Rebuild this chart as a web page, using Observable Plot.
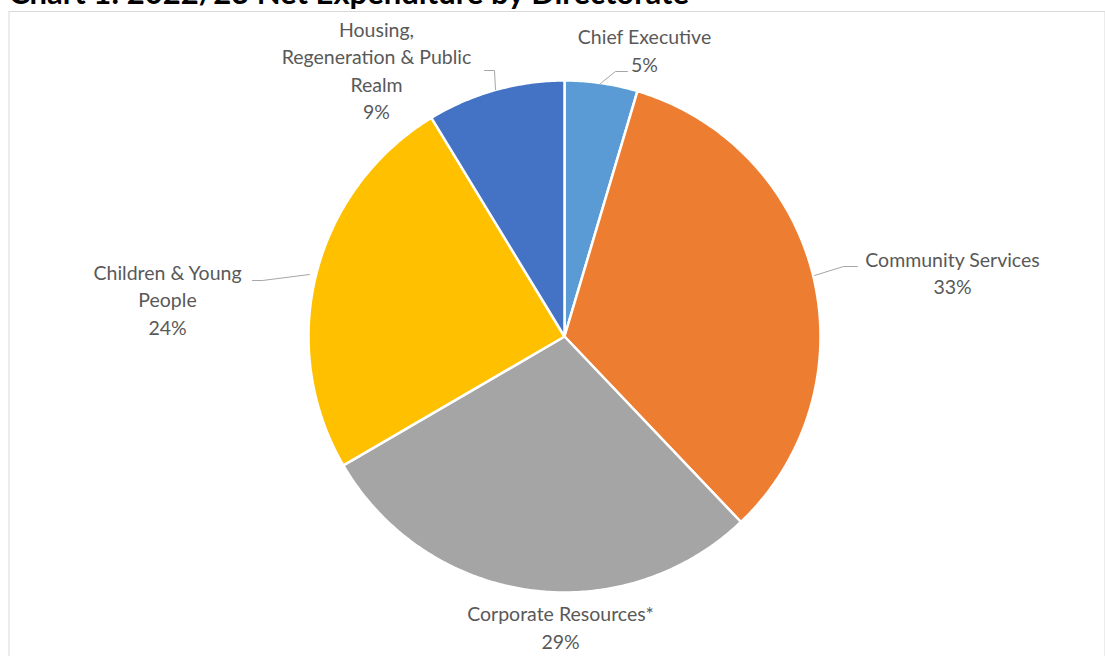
<!DOCTYPE html>
<html>
<head>
<meta charset="utf-8">
<script src="https://cdn.jsdelivr.net/npm/d3@7"></script>
<script src="https://cdn.jsdelivr.net/npm/@observablehq/plot@0.6"></script>
<style>
  html, body { margin: 0; padding: 0; background: #fff; overflow: hidden; }
  #wrap { position: relative; width: 1105px; height: 656px; overflow: hidden; }
  #title { position: absolute; left: 9px; top: -27px; line-height: 31px; font: bold 31px Lato, "DejaVu Sans", sans-serif; color: #000; white-space: nowrap; }
  #chart { position: absolute; left: 0; top: 0; }
</style>
</head>
<body>
<div id="wrap">
  <div id="title">Chart 1: 2022/23 Net Expenditure by Directorate</div>
  <div id="chart"></div>
</div>
<script>
// ---- data ----
const directorates = ["Chief Executive", "Community Services", "Corporate Resources*", "Children & Young People", "Housing, Regeneration & Public Realm"];
const shares = [4.6, 33.3, 28.7, 24.7, 8.7];
const shareLabels = ["5%", "33%", "29%", "24%", "9%"];
const labelText = ["Chief Executive", "Community Services", "Corporate Resources*", "Children & Young\nPeople", "Housing,\nRegeneration & Public\nRealm"];
const colors = ["#5B9BD5", "#ED7D31", "#A5A5A5", "#FFC000", "#4472C4"];

// ---- layout (pixels) ----
const W = 1105, H = 656;
const cx = 564, cy = 336, R = 256;
const labelPos = [[644, 48.5], [952, 271], [560, 625.5], [167, 298], [376, 68.5]];
const leaders = [
  [[600, 83], [615, 71], [627, 71]],
  [[814, 275], [843, 266], [857, 266]],
  null,
  [[252, 280], [262, 280], [309, 274]],
  [[484, 70], [494, 70], [495, 89]]
];

const ux = px => (px - cx) / R;
const uy = py => (cy - py) / R;

// slice polygons in unit coordinates (angle clockwise from top)
const total = d3.sum(shares);
const slices = [];
let acc = 0;
directorates.forEach((name, i) => {
  const a0 = acc / total * 2 * Math.PI;
  acc += shares[i];
  const a1 = acc / total * 2 * Math.PI;
  const n = Math.max(2, Math.ceil((a1 - a0) / 0.01));
  slices.push({name, x: 0, y: 0, i});
  for (let k = 0; k <= n; k++) {
    const a = a0 + (a1 - a0) * k / n;
    slices.push({name, x: Math.sin(a), y: Math.cos(a), i});
  }
  slices.push({name, x: 0, y: 0, i});
});

const labels = directorates.map((name, i) => ({
  name,
  text: labelText[i] + "\n" + shareLabels[i],
  x: ux(labelPos[i][0]),
  y: uy(labelPos[i][1])
}));

const leaderPts = [];
leaders.forEach((pts, i) => {
  if (!pts) return;
  pts.forEach(p => leaderPts.push({name: directorates[i], x: ux(p[0]), y: uy(p[1])}));
});

const mL = 8.5, mT = 11, mR = 0.5, mB = 0;
const chart = Plot.plot({
  width: W,
  height: H,
  marginLeft: mL, marginTop: mT, marginRight: mR, marginBottom: mB,
  x: {domain: [ux(mL), ux(W - mR)], axis: null},
  y: {domain: [uy(H - mB), uy(mT)], axis: null},
  color: {domain: directorates, range: colors},
  style: {fontFamily: "Lato, 'DejaVu Sans', sans-serif", background: "transparent", overflow: "visible"},
  marks: [
    Plot.frame({stroke: "#d9d9d9", strokeWidth: 1}),
    Plot.line(slices, {x: "x", y: "y", z: "name", fill: "name", stroke: "white", strokeWidth: 2.5, strokeLinejoin: "round", curve: "linear"}),
    Plot.line(leaderPts, {x: "x", y: "y", z: "name", stroke: "#a6a6a6", strokeWidth: 1}),
    Plot.text(labels, {x: "x", y: "y", text: "text", fill: "#595959", fontSize: 19.5, lineHeight: 1.41, textAnchor: "middle"})
  ]
});
document.getElementById("chart").appendChild(chart);
</script>
</body>
</html>
